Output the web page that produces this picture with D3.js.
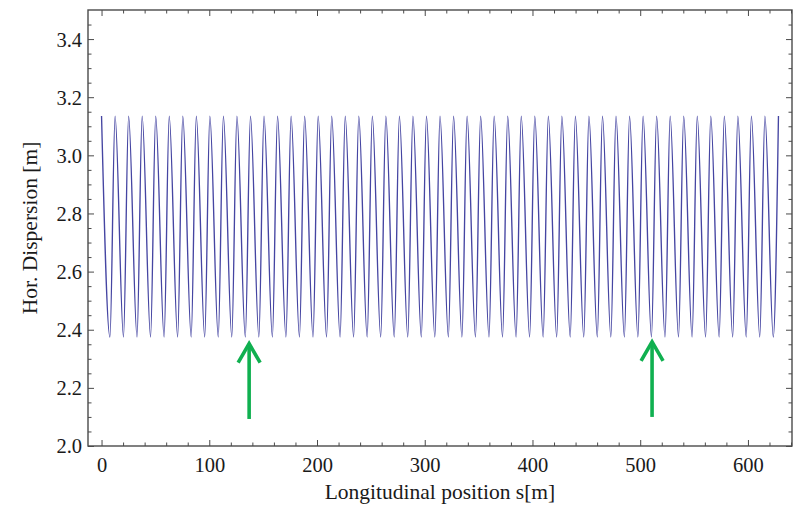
<!DOCTYPE html>
<html>
<head>
<meta charset="utf-8">
<script src="https://cdn.jsdelivr.net/npm/d3@7/dist/d3.min.js"></script>
<style>
  html, body { margin: 0; padding: 0; background: #ffffff; }
  svg { display: block; }
  .tick text { font-family: "Liberation Serif", "Times New Roman", serif; font-size: 20.5px; fill: #1a1a1a; }
</style>
</head>
<body>
<svg id="chart" width="800" height="510"></svg>
<script>
// ---------------- data ----------------
// positions (m) of the dispersion maxima
const peakS = [0, 12.57, 25.13, 37.70, 50.27, 62.83, 75.40, 87.96, 100.53, 113.10,
  125.66, 138.23, 150.80, 163.36, 175.93, 188.50, 201.06, 213.63, 226.19, 238.76,
  251.33, 263.89, 276.46, 289.03, 301.59, 314.16, 326.73, 339.29, 351.86, 364.42,
  376.99, 389.56, 402.12, 414.69, 427.26, 439.82, 452.39, 464.96, 477.52, 490.09,
  502.65, 515.22, 527.79, 540.35, 552.92, 565.49, 578.05, 590.62, 603.19, 615.75, 628.32];
// positions (m) of the dispersion minima
const troughS = [7.80, 20.37, 32.93, 45.50, 58.06, 70.63, 83.20, 95.76, 108.33, 120.89,
  133.46, 146.03, 158.59, 171.16, 183.72, 196.29, 208.86, 221.42, 233.99, 246.55,
  259.12, 271.69, 284.25, 296.82, 309.38, 321.95, 334.52, 347.08, 359.65, 372.21,
  384.78, 397.35, 409.91, 422.48, 435.04, 447.61, 460.18, 472.74, 485.31, 497.87,
  510.44, 523.01, 535.57, 548.14, 560.70, 573.27, 585.84, 598.40, 610.97, 623.53];
const maxDispersion = 3.135;   // m
const minDispersion = 2.375;   // m

// annotation arrows (green)
const arrowS = [137, 511];
const arrowTipD = [2.352, 2.358];
const arrowTailD = [2.093, 2.100];

// axis ticks
const xMajorTicks = [0, 100, 200, 300, 400, 500, 600];
const xMinorTicks = [20, 40, 60, 80, 120, 140, 160, 180, 220, 240, 260, 280, 320, 340, 360, 380,
  420, 440, 460, 480, 520, 540, 560, 580, 620, 640];
const yMajorTicks = [2.0, 2.2, 2.4, 2.6, 2.8, 3.0, 3.2, 3.4];
const yMinorTicks = [2.05, 2.1, 2.15, 2.25, 2.3, 2.35, 2.45, 2.5, 2.55, 2.65, 2.7, 2.75, 2.85, 2.9, 2.95,
  3.05, 3.1, 3.15, 3.25, 3.3, 3.35, 3.45];

const xLabel = "Longitudinal position s[m]";
const yLabel = "Hor. Dispersion [m]";

// ---------------- layout ----------------
const L = 88, R = 792, T = 10, B = 446;
const svg = d3.select("#chart");

const x = d3.scaleLinear().domain([-12.57, 640.89]).range([L, R]);
const y = d3.scaleLinear().domain([2.0, 3.5]).range([B, T]);

const lineData = peakS.map(s => ({ s: s, d: maxDispersion }))
  .concat(troughS.map(s => ({ s: s, d: minDispersion })))
  .sort((a, b) => a.s - b.s);

// clip
svg.append("defs").append("clipPath").attr("id", "plotclip")
  .append("rect").attr("x", L).attr("y", T).attr("width", R - L).attr("height", B - T);

// curve
const line = d3.line().x(p => x(p.s)).y(p => y(p.d)).curve(d3.curveMonotoneX);
svg.append("path")
  .datum(lineData)
  .attr("clip-path", "url(#plotclip)")
  .attr("d", line)
  .attr("fill", "none")
  .attr("stroke", "#4545a2")
  .attr("stroke-width", 1.35);

// axes (inward ticks on all four sides)
const frameColor = "#4a4a4a";
function styleAxis(g) {
  g.select(".domain").remove();
  g.selectAll(".tick line").attr("stroke", frameColor).attr("stroke-width", 1);
}
// bottom major
svg.append("g").attr("transform", `translate(0,${B})`)
  .call(d3.axisBottom(x).tickValues(xMajorTicks).tickSize(-6).tickPadding(12).tickFormat(d3.format("d")))
  .call(styleAxis)
  .call(g => g.selectAll(".tick text").attr("y", 26).attr("dy", 0));
svg.append("g").attr("transform", `translate(0,${B})`)
  .call(d3.axisBottom(x).tickValues(xMinorTicks).tickSize(-3.5).tickFormat(""))
  .call(styleAxis);
// top
svg.append("g").attr("transform", `translate(0,${T})`)
  .call(d3.axisTop(x).tickValues(xMajorTicks).tickSize(-6).tickFormat(""))
  .call(styleAxis);
svg.append("g").attr("transform", `translate(0,${T})`)
  .call(d3.axisTop(x).tickValues(xMinorTicks).tickSize(-3.5).tickFormat(""))
  .call(styleAxis);
// left
svg.append("g").attr("transform", `translate(${L},0)`)
  .call(d3.axisLeft(y).tickValues(yMajorTicks).tickSize(-6).tickPadding(6).tickFormat(d3.format(".1f")))
  .call(styleAxis)
  .call(g => g.selectAll(".tick text").attr("x", -6).attr("dy", "0.34em"));
svg.append("g").attr("transform", `translate(${L},0)`)
  .call(d3.axisLeft(y).tickValues(yMinorTicks).tickSize(-3.5).tickFormat(""))
  .call(styleAxis);
// right
svg.append("g").attr("transform", `translate(${R},0)`)
  .call(d3.axisRight(y).tickValues(yMajorTicks).tickSize(-6).tickFormat(""))
  .call(styleAxis);
svg.append("g").attr("transform", `translate(${R},0)`)
  .call(d3.axisRight(y).tickValues(yMinorTicks).tickSize(-3.5).tickFormat(""))
  .call(styleAxis);

// frame
svg.append("rect")
  .attr("x", L).attr("y", T).attr("width", R - L).attr("height", B - T)
  .attr("fill", "none").attr("stroke", frameColor).attr("stroke-width", 1.4);

// axis titles
svg.append("text")
  .attr("x", (L + R) / 2).attr("y", 499)
  .attr("text-anchor", "middle")
  .attr("font-family", "'Liberation Serif', 'Times New Roman', serif")
  .attr("font-size", 21.5).attr("fill", "#1a1a1a")
  .text(xLabel);
svg.append("text")
  .attr("transform", `translate(37,${(T + B) / 2}) rotate(-90)`)
  .attr("text-anchor", "middle")
  .attr("font-family", "'Liberation Serif', 'Times New Roman', serif")
  .attr("font-size", 21.5).attr("fill", "#1a1a1a")
  .text(yLabel);

// green arrows
const arrowColor = "#10b050";
const arrows = svg.append("g");
arrowS.forEach((s, i) => {
  const ax = x(s), tipY = y(arrowTipD[i]), tailY = y(arrowTailD[i]);
  arrows.append("path")
    .attr("d", `M${ax},${tailY} L${ax},${tipY + 2}`)
    .attr("stroke", arrowColor).attr("stroke-width", 3.6).attr("fill", "none");
  arrows.append("path")
    .attr("d", `M${ax - 11},${tipY + 19} L${ax},${tipY} L${ax + 11},${tipY + 19}`)
    .attr("stroke", arrowColor).attr("stroke-width", 3.6).attr("fill", "none")
    .attr("stroke-linejoin", "miter").attr("stroke-linecap", "butt");
});
</script>
</body>
</html>
